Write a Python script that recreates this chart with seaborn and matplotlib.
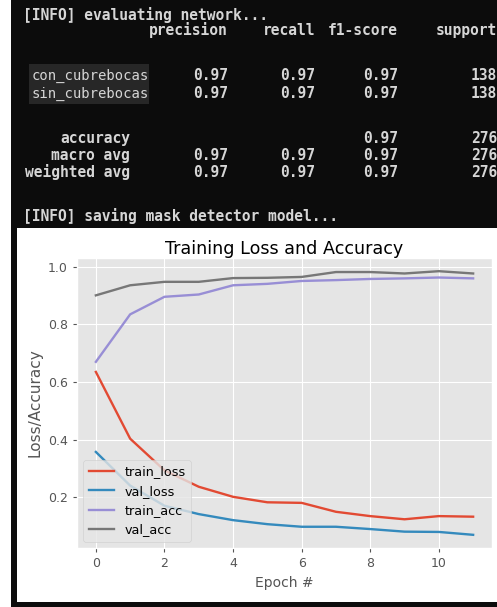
#TRAINING LOSS/ACCURACY PLOT + CLASSIFICATION REPORT (terminal screenshot)

import pandas as pd
import matplotlib.pyplot as plt
import seaborn as sns
from matplotlib.patches import Rectangle

# ---- report values
class_names = ["con_cubrebocas", "sin_cubrebocas"]
precision = [0.97, 0.97]
recall = [0.97, 0.97]
f1_score = [0.97, 0.97]
support = [138, 138]
accuracy = 0.97
avg_names = ["macro avg", "weighted avg"]
avg_precision = [0.97, 0.97]
avg_recall = [0.97, 0.97]
avg_f1 = [0.97, 0.97]
total_support = 276

# ---- training history
epochs = list(range(12))
train_loss = [0.635, 0.403, 0.293, 0.236, 0.201, 0.182, 0.180, 0.149, 0.134, 0.123, 0.134, 0.132]
val_loss = [0.357, 0.240, 0.170, 0.141, 0.120, 0.106, 0.097, 0.097, 0.089, 0.080, 0.079, 0.069]
train_acc = [0.670, 0.835, 0.896, 0.904, 0.936, 0.941, 0.951, 0.954, 0.958, 0.960, 0.963, 0.960]
val_acc = [0.901, 0.936, 0.948, 0.948, 0.961, 0.962, 0.965, 0.982, 0.982, 0.977, 0.985, 0.977]

W, H = 497, 607
plt.style.use("ggplot")
fig = plt.figure(figsize=(W / 100, H / 100), dpi=100, facecolor="white")

def fx(x):
    return x / W

def fy(y):
    return 1 - y / H

def box(x0, y0, x1, y1, color):
    fig.add_artist(Rectangle((fx(x0), fy(y1)), fx(x1) - fx(x0), fy(y0) - fy(y1),
                             transform=fig.transFigure, color=color, lw=0, zorder=0))

# terminal background + white panel of the figure window
box(11, 0, W, H, "#0c0c0c")
box(17, 228, W, 602, "white")
box(29, 64, 149, 104, "#272727")

txt = "#d6d6d6"
mono = dict(family="DejaVu Sans Mono", fontsize=10.5, weight="bold", color=txt, va="baseline")

def line(x, y, s, ha="left", **kw):
    opts = dict(mono)
    opts.update(kw)
    fig.text(fx(x), fy(y), s, ha=ha, **opts)

cols = [228, 315, 398, 497]

line(23, 20, "[INFO] evaluating network...")
for c, h in zip(cols, ["precision", "recall", "f1-score", "support"]):
    line(c, 35, h, ha="right")

for i, name in enumerate(class_names):
    y = [80, 98][i]
    line(32, y, name, fontsize=10, weight="normal")
    vals = ["%.2f" % precision[i], "%.2f" % recall[i], "%.2f" % f1_score[i], str(support[i])]
    for c, v in zip(cols, vals):
        line(c, y, v, ha="right")

line(130, 143, "accuracy", ha="right")
line(cols[2], 143, "%.2f" % accuracy, ha="right")
line(cols[3], 143, str(total_support), ha="right")

for i, name in enumerate(avg_names):
    y = [160, 177][i]
    line(130, y, name, ha="right")
    vals = ["%.2f" % avg_precision[i], "%.2f" % avg_recall[i], "%.2f" % avg_f1[i], str(total_support)]
    for c, v in zip(cols, vals):
        line(c, y, v, ha="right")

line(23, 221, "[INFO] saving mask detector model...")

#--------------------------------------------------------------------
# the plot itself (ggplot style, shrunk a bit)

ax = fig.add_axes([fx(77), fy(548), fx(492) - fx(77), fy(258) - fy(548)])

series = {"train_loss": train_loss, "val_loss": val_loss,
          "train_acc": train_acc, "val_acc": val_acc}
for name, vals in series.items():
    sns.lineplot(x=epochs, y=vals, label=name, ax=ax, linewidth=1.7)

ax.set_xticks([0, 2, 4, 6, 8, 10])
ax.set_yticks([0.2, 0.4, 0.6, 0.8, 1.0])
ax.tick_params(labelsize=9, colors="#555555", length=3)
ax.set_title("Training Loss and Accuracy", fontsize=12.6, color="black", pad=2)
ax.set_xlabel("Epoch #", fontsize=10, color="#555555")
ax.set_ylabel("Loss/Accuracy", fontsize=11, color="#555555")
ax.legend(loc="lower left", fontsize=9.2)

plt.savefig("out.png", dpi=100, facecolor="white")
